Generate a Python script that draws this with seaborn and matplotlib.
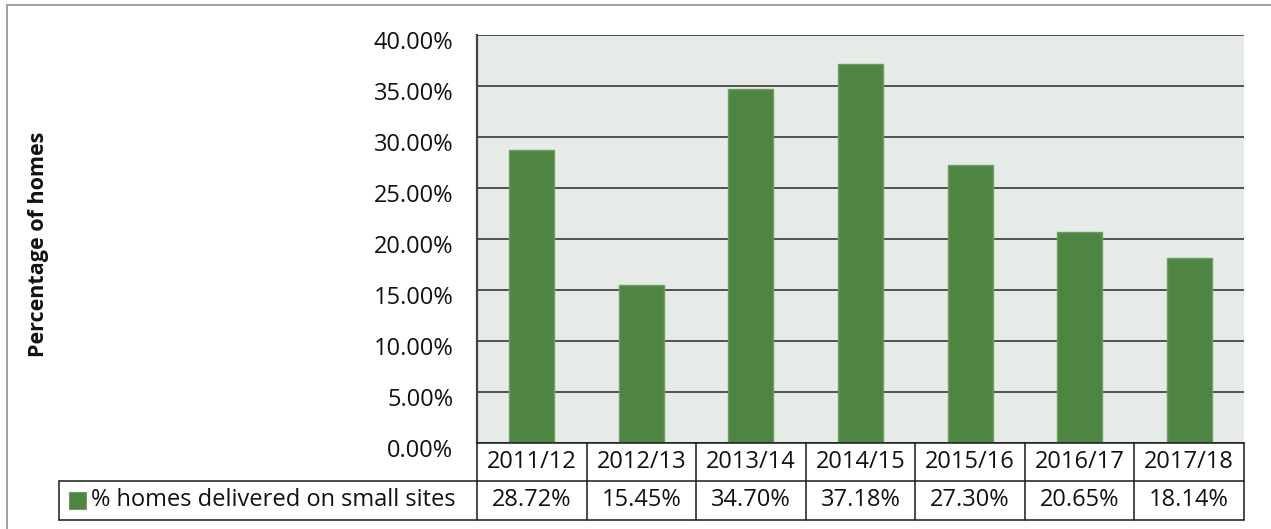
import matplotlib
matplotlib.use("Agg")
import matplotlib.pyplot as plt
import matplotlib.transforms as mtransforms
from matplotlib.lines import Line2D
from matplotlib.patches import Rectangle
import seaborn as sns
import pandas as pd

categories = ["2011/12", "2012/13", "2013/14", "2014/15", "2015/16", "2016/17", "2017/18"]
values = [0.2872, 0.1545, 0.3470, 0.3718, 0.2730, 0.2065, 0.1814]
series_name = "% homes delivered on small sites"
y_label = "Percentage of homes"
y_ticks = [0.0, 0.05, 0.10, 0.15, 0.20, 0.25, 0.30, 0.35, 0.40]

sns.set_style("white")
plt.rcParams['font.family'] = ['Open Sans', 'DejaVu Sans']

W, H = 1271, 529
fig = plt.figure(figsize=(W / 100, H / 100), dpi=100)

def fx(x):
    return x / W

def fy(y):
    return 1 - y / H

FS = 17
TXT = "#111111"
ax_left, ax_top, ax_right, ax_bottom = 477, 35, 1244, 443
ax = fig.add_axes([fx(ax_left), fy(ax_bottom), fx(ax_right - ax_left), (ax_bottom - ax_top) / H])

GREEN = "#4E8542"
df = pd.DataFrame({"period": categories, "value": values})
sns.barplot(data=df, x="period", y="value", color=GREEN, width=0.41,
            edgecolor="#6E9C64", linewidth=1.0, saturation=1, ax=ax, zorder=3)

ax.set_facecolor("#E7EBE7")
ax.set_xlim(-0.5, len(categories) - 0.5)
ax.set_ylim(0, 0.40)
ax.set_yticks(y_ticks)
ax.set_yticklabels([f"{v * 100:.2f}%" for v in y_ticks])
ax.yaxis.grid(True, color="#262626", linewidth=1.1, zorder=1)
ax.set_axisbelow(True)
ax.set_xticks([])
ax.set_xlabel("")
ax.set_ylabel("")
for s in ["top", "right", "bottom"]:
    ax.spines[s].set_visible(False)
ax.spines["left"].set_color("#444444")
ax.spines["left"].set_linewidth(1.6)
ax.tick_params(axis="y", length=0, pad=17, labelsize=FS, labelcolor=TXT)
offset = mtransforms.ScaledTranslation(0, -5 / 100, fig.dpi_scale_trans)
for lab in ax.get_yticklabels():
    lab.set_transform(lab.get_transform() + offset)

# y axis title
fig.text(fx(39), fy(244), y_label, rotation=90, ha="center", va="center",
         fontsize=15.5, fontweight="bold", color=TXT)

# data table
row1_top, row1_bot, row2_bot = 443, 481, 520
table_left = 59
lc = "#1a1a1a"
lw = 1.1
trans_x = mtransforms.blended_transform_factory(ax.transData, fig.transFigure)

def hline(x0, x1, y):
    fig.add_artist(Line2D([fx(x0), fx(x1)], [fy(y), fy(y)], color=lc, lw=lw,
                          transform=fig.transFigure))

hline(ax_left, ax_right, row1_top)
hline(table_left, ax_right, row1_bot)
hline(table_left, ax_right, row2_bot)
fig.add_artist(Line2D([fx(table_left)] * 2, [fy(row1_bot), fy(row2_bot)], color=lc, lw=lw,
                      transform=fig.transFigure))
for i in range(len(categories) + 1):
    xd = i - 0.5
    fig.add_artist(Line2D([xd, xd], [fy(row1_top), fy(row2_bot)], color=lc, lw=lw,
                          transform=trans_x))

for i, (c, v) in enumerate(zip(categories, values)):
    fig.text(i, fy((row1_top + row1_bot) / 2), c, transform=trans_x,
             ha="center", va="center", fontsize=FS, color=TXT)
    fig.text(i, fy((row1_bot + row2_bot) / 2), f"{v * 100:.2f}%", transform=trans_x,
             ha="center", va="center", fontsize=FS, color=TXT)

# legend key in the table
fig.add_artist(Rectangle((fx(69), fy(509)), fx(17), 17 / H, facecolor=GREEN,
                         edgecolor="#6E9C64", lw=0.8, transform=fig.transFigure))
fig.text(fx(91), fy((row1_bot + row2_bot) / 2), series_name, ha="left", va="center",
         fontsize=FS, color=TXT)

# outer chart border (extends past the right and bottom edges)
fig.add_artist(Rectangle((fx(7), fy(560)), fx(1300), 555 / H, facecolor="none",
                         edgecolor="#9a9a9a", lw=1.3, transform=fig.transFigure))

fig.savefig("out.png", dpi=100, facecolor="white")
